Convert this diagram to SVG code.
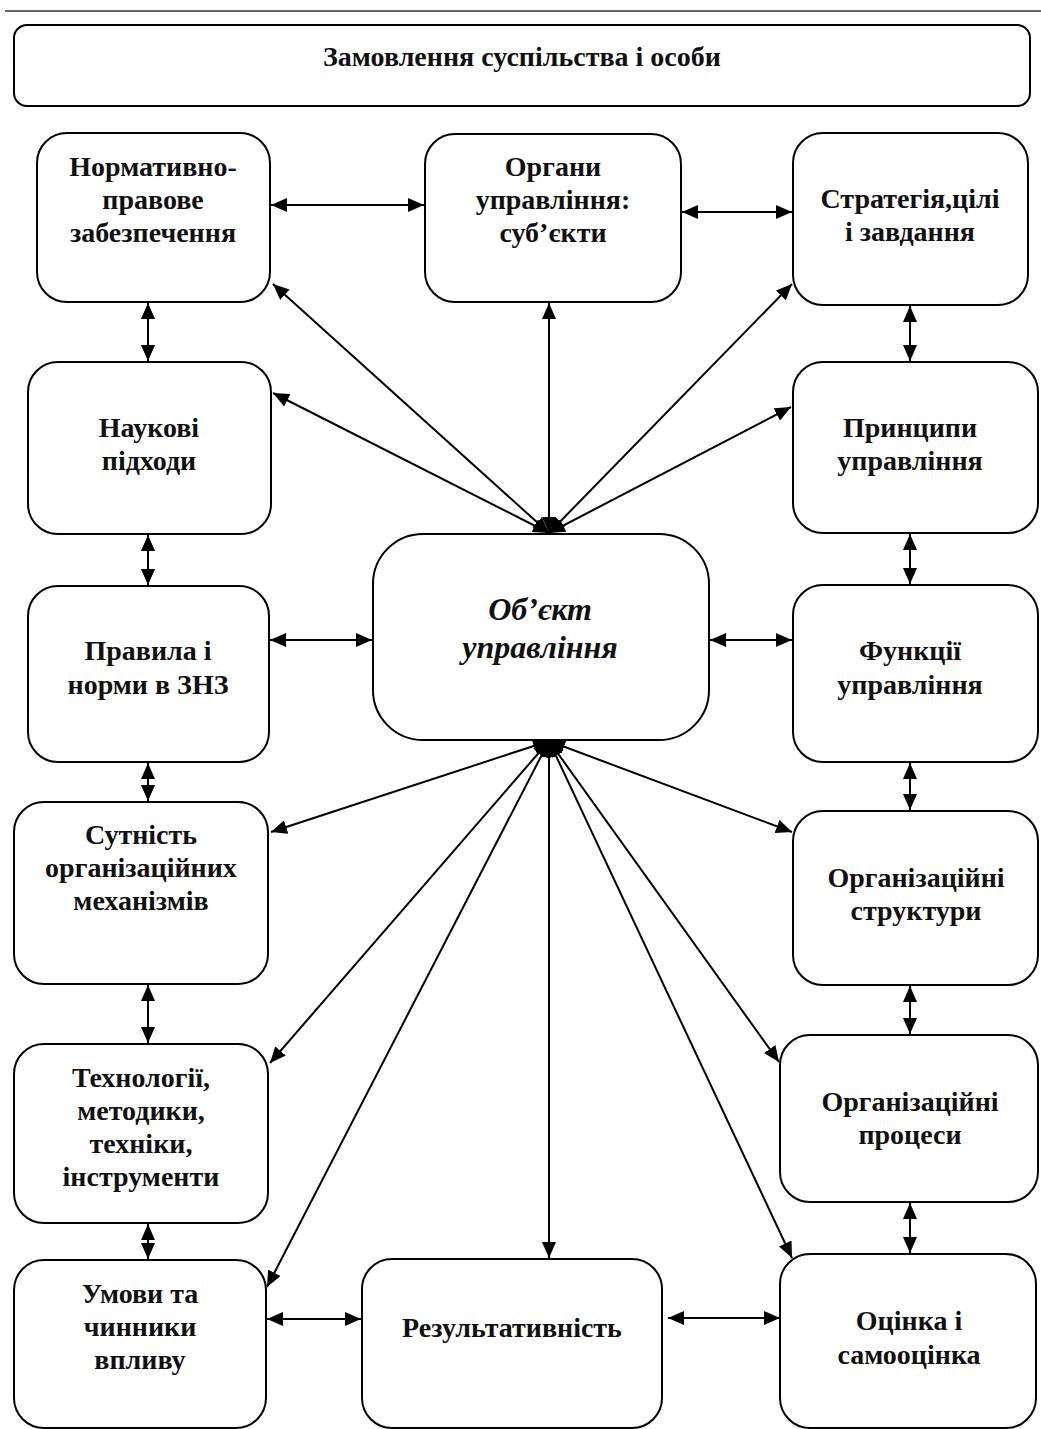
<svg xmlns="http://www.w3.org/2000/svg" width="1041" height="1429" viewBox="0 0 1041 1429">
<style>
.box{fill:#fff;stroke:#000;stroke-width:2}
.t{font-family:"Liberation Serif","Times New Roman",serif;font-weight:bold;font-size:28px;text-anchor:middle;fill:#111}
.ti{font-style:italic;font-size:32px}
.c{stroke:#000;stroke-width:2;fill:none;marker-start:url(#ah);marker-end:url(#ah)}
</style>
<defs>
<marker id="ah" markerUnits="userSpaceOnUse" markerWidth="17" markerHeight="14" refX="16" refY="7" orient="auto-start-reverse">
<path d="M0,0 L16,7 L0,14 z" fill="#000"/>
</marker>
</defs>
<rect width="1041" height="1429" fill="#fff"/>
<line x1="5" y1="11" x2="1041" y2="11" stroke="#666" stroke-width="2"/>

<g id="title"><rect class="box" x="14" y="25" width="1016" height="81" rx="13"/><text class="t" x="522" y="66">Замовлення суспільства і особи</text></g>

<g id="n-normatyvno"><rect class="box" x="37" y="133" width="233" height="169" rx="30"/><text class="t" x="153" y="176">Нормативно-</text><text class="t" x="153" y="209">правове</text><text class="t" x="153" y="242">забезпечення</text></g>
<g id="n-organy"><rect class="box" x="425" y="134" width="256" height="168" rx="30"/><text class="t" x="553" y="176">Органи</text><text class="t" x="553" y="209">управління:</text><text class="t" x="553" y="242">суб’єкти</text></g>
<g id="n-stratehiia"><rect class="box" x="793" y="133" width="235" height="172" rx="30"/><text class="t" x="910" y="208">Стратегія,цілі</text><text class="t" x="910" y="241">і завдання</text></g>

<g id="n-naukovi"><rect class="box" x="28" y="362" width="243" height="172" rx="30"/><text class="t" x="149" y="437">Наукові</text><text class="t" x="149" y="470">підходи</text></g>
<g id="n-pryntsypy"><rect class="box" x="793" y="362" width="245" height="171" rx="30"/><text class="t" x="910" y="437">Принципи</text><text class="t" x="910" y="470">управління</text></g>

<g id="n-obiekt"><rect class="box" x="373" y="534" width="336" height="206" rx="50"/><text class="t ti" x="540" y="620">Об’єкт</text><text class="t ti" x="540" y="658">управління</text></g>

<g id="n-pravyla"><rect class="box" x="28" y="586" width="241" height="176" rx="30"/><text class="t" x="148" y="660">Правила і</text><text class="t" x="148" y="694">норми в ЗНЗ</text></g>
<g id="n-funktsii"><rect class="box" x="793" y="585" width="245" height="177" rx="30"/><text class="t" x="910" y="660">Функції</text><text class="t" x="910" y="694">управління</text></g>

<g id="n-sutnist"><rect class="box" x="14" y="802" width="254" height="182" rx="30"/><text class="t" x="141" y="844">Сутність</text><text class="t" x="141" y="877">організаційних</text><text class="t" x="141" y="910">механізмів</text></g>
<g id="n-org-struktury"><rect class="box" x="793" y="811" width="245" height="174" rx="30"/><text class="t" x="916" y="887">Організаційні</text><text class="t" x="916" y="920">структури</text></g>

<g id="n-tekhnolohii"><rect class="box" x="14" y="1044" width="254" height="179" rx="30"/><text class="t" x="141" y="1087">Технології,</text><text class="t" x="141" y="1120">методики,</text><text class="t" x="141" y="1153">техніки,</text><text class="t" x="141" y="1186">інструменти</text></g>
<g id="n-org-protsesy"><rect class="box" x="780" y="1035" width="258" height="167" rx="30"/><text class="t" x="910" y="1111">Організаційні</text><text class="t" x="910" y="1144">процеси</text></g>

<g id="n-umovy"><rect class="box" x="14" y="1260" width="252" height="168" rx="30"/><text class="t" x="140" y="1303">Умови та</text><text class="t" x="140" y="1336">чинники</text><text class="t" x="140" y="1369">впливу</text></g>
<g id="n-rezultatyvnist"><rect class="box" x="362" y="1259" width="300" height="169" rx="30"/><text class="t" x="512" y="1337">Результативність</text></g>
<g id="n-otsinka"><rect class="box" x="780" y="1254" width="256" height="174" rx="30"/><text class="t" x="909" y="1330">Оцінка і</text><text class="t" x="909" y="1364">самооцінка</text></g>

<g id="connectors">
<line class="c" x1="271" y1="205" x2="424" y2="205"/>
<line class="c" x1="682" y1="212" x2="792" y2="212"/>
<line class="c" x1="148" y1="303" x2="148" y2="361"/>
<line class="c" x1="910" y1="306" x2="910" y2="361"/>
<line class="c" x1="148" y1="535" x2="148" y2="585"/>
<line class="c" x1="910" y1="534" x2="910" y2="584"/>
<line class="c" x1="148" y1="763" x2="148" y2="801"/>
<line class="c" x1="910" y1="763" x2="910" y2="810"/>
<line class="c" x1="148" y1="985" x2="148" y2="1043"/>
<line class="c" x1="910" y1="986" x2="910" y2="1034"/>
<line class="c" x1="148" y1="1224" x2="148" y2="1259"/>
<line class="c" x1="910" y1="1203" x2="910" y2="1253"/>
<line class="c" x1="270" y1="640" x2="372" y2="640"/>
<line class="c" x1="710" y1="640" x2="792" y2="640"/>
<line class="c" x1="267" y1="1319" x2="361" y2="1319"/>
<line class="c" x1="668" y1="1318" x2="780" y2="1318"/>
<line class="c" x1="273" y1="284" x2="549" y2="533"/>
<line class="c" x1="273" y1="393" x2="549" y2="533"/>
<line class="c" x1="549" y1="303" x2="549" y2="533"/>
<line class="c" x1="792" y1="284" x2="549" y2="533"/>
<line class="c" x1="791" y1="407" x2="549" y2="533"/>
<line class="c" x1="549" y1="741" x2="271" y2="832"/>
<line class="c" x1="549" y1="741" x2="270" y2="1063"/>
<line class="c" x1="549" y1="741" x2="267" y2="1287"/>
<line class="c" x1="549" y1="741" x2="549" y2="1258"/>
<line class="c" x1="549" y1="741" x2="792" y2="832"/>
<line class="c" x1="549" y1="741" x2="779" y2="1062"/>
<line class="c" x1="549" y1="741" x2="792" y2="1258"/>
</g>
</svg>
